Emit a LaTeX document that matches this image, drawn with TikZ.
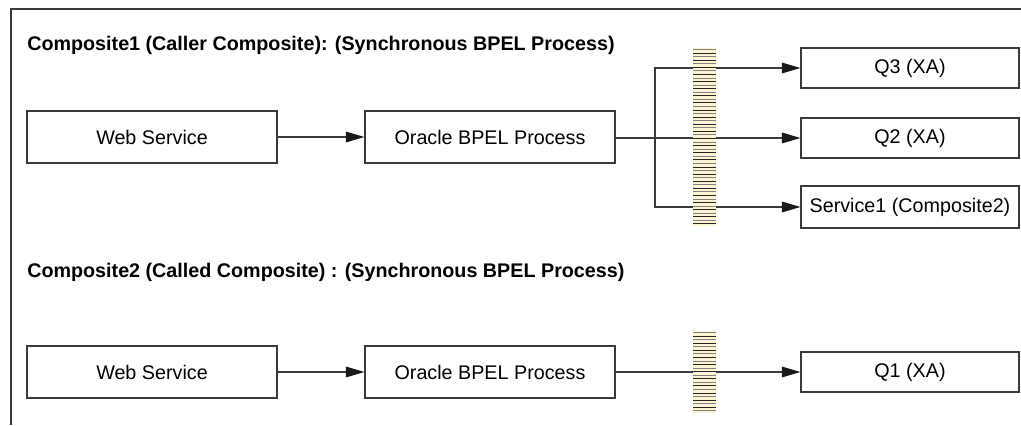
\documentclass[tikz,border=0pt]{standalone}
\usepackage{fontspec}
\setmainfont{Liberation Sans}
\usetikzlibrary{arrows.meta}
\definecolor{ln}{HTML}{3A3A3A}
\definecolor{cream}{HTML}{FBF5D2}
\begin{document}
\begin{tikzpicture}[x=0.75pt,y=-0.75pt,
  box/.style={draw=ln,line width=0.8pt,minimum height=39pt,inner sep=0pt,font=\fontsize{14.8}{17}\selectfont},
  bigbox/.style={box,minimum width=187.5pt},
  qbox/.style={box,minimum width=163.5pt,minimum height=30pt},
  title/.style={anchor=base west,inner sep=0pt,font=\bfseries\fontsize{14.8}{17}\selectfont},
  conn/.style={draw=ln,line width=0.8pt,-{Triangle[length=14pt,width=8pt,color=black!90]}},
  plain/.style={draw=ln,line width=0.8pt},
  hatch/.style={line width=0.7pt}]
\useasboundingbox (0,0) rectangle (1021,425);
\draw[plain] (1021,9) -- (11,9) -- (11,425);
\node[title] (t1) at (27,50) {Composite1 (Caller Composite): (Synchronous BPEL Process)};
\node[title] (t2) at (27,277) {Composite2 (Called Composite) : (Synchronous BPEL Process)};
% row 1
\node[bigbox] (ws1) at (152,137) {Web Service};
\node[bigbox] (bp1) at (490,137) {Oracle BPEL Process};
\node[qbox] (q3) at (910,68) {Q3 (XA)};
\node[qbox] (q2) at (910,138) {Q2 (XA)};
\node[qbox,minimum height=31.5pt] (s1) at (910,207) {Service1 (Composite2)};
\coordinate (br) at (655,138);
\draw[conn] (ws1) -- (bp1);
\draw[conn] (bp1.east |- q2.west) -- (q2.west);
\draw[conn] (br) |- (q3.west);
\draw[conn] (br) |- (s1.west);
% row 2
\node[bigbox] (ws2) at (152,372) {Web Service};
\node[bigbox] (bp2) at (490,372) {Oracle BPEL Process};
\node[qbox] (q1) at (910,372) {Q1 (XA)};
\draw[conn] (ws2) -- (bp2);
\draw[conn] (bp2) -- (q1);
% hatched bars
\fill[cream] (693,48) rectangle (716,226);
\foreach \i in {0,...,49} {
  \pgfmathsetmacro{\yy}{49.5+\i*3.56}
  \ifodd\i \draw[hatch,black!85] (693,\yy) -- (716,\yy);
  \else \draw[hatch,black!50] (693,\yy) -- (716,\yy); \fi
}
\fill[cream] (693,331) rectangle (716,413);
\foreach \i in {0,...,22} {
  \pgfmathsetmacro{\yy}{332.5+\i*3.56}
  \ifodd\i \draw[hatch,black!85] (693,\yy) -- (716,\yy);
  \else \draw[hatch,black!50] (693,\yy) -- (716,\yy); \fi
}
\end{tikzpicture}
\end{document}
